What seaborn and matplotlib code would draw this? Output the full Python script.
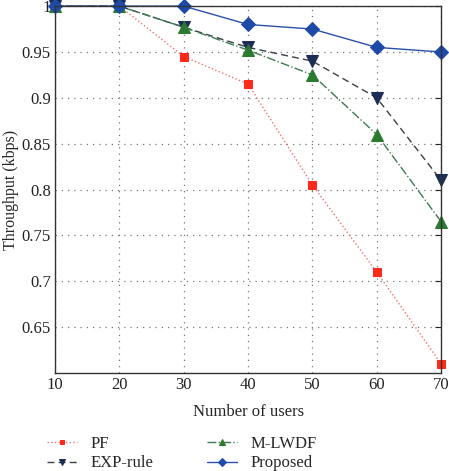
import numpy as np
import pandas as pd
import seaborn as sns
import matplotlib.pyplot as plt

# dati
users = [10, 20, 30, 40, 50, 60, 70]
pf = [1.0, 1.0, 0.945, 0.915, 0.805, 0.71, 0.61]
exp_rule = [1.0, 1.0, 0.977, 0.955, 0.94, 0.90, 0.81]
m_lwdf = [1.0, 1.0, 0.977, 0.952, 0.925, 0.86, 0.765]
proposed = [1.0, 1.0, 1.0, 0.98, 0.975, 0.955, 0.95]

sns.set_style("white")
plt.rcParams['font.family'] = ['Liberation Serif', 'DejaVu Serif']

fig = plt.figure(figsize=(4.49, 4.71), dpi=100)
ax = fig.add_axes([0.1225, 0.208, 0.86, 0.779])

series = [
    ("PF", pf, dict(color="#f07070", linestyle=":", marker="s", markerfacecolor="#ff2a1a",
                    markeredgecolor="#ff2a1a", markersize=6)),
    ("EXP-rule", exp_rule, dict(color="#3a3f4a", linestyle=(0, (5, 3)), marker="v",
                                markerfacecolor="#1c2d55", markeredgecolor="#1c2d55", markersize=8)),
    ("M-LWDF", m_lwdf, dict(color="#3c7a50", linestyle="-.", marker="^", markerfacecolor="#2a7a30",
                            markeredgecolor="#2a7a30", markersize=8)),
    ("Proposed", proposed, dict(color="#2a50a8", linestyle="-", marker="D", markerfacecolor="#1f4aa8",
                                markeredgecolor="#1f4aa8", markersize=7)),
]

for name, vals, kw in series:
    sns.lineplot(x=users, y=vals, ax=ax, label=name, linewidth=1.0, clip_on=False, **kw)

ax.set_xlim(10, 70)
ax.set_ylim(0.6, 1.0)
ax.set_xticks(users)
ax.set_yticks([0.65, 0.7, 0.75, 0.8, 0.85, 0.9, 0.95, 1.0])
ax.set_yticklabels(["0.65", "0.7", "0.75", "0.8", "0.85", "0.9", "0.95", "1"])
ax.grid(True, linestyle=(0, (1, 4)), color="#777777", linewidth=0.9)
ax.tick_params(direction="in", length=4, labelsize=12, right=True, top=False, colors="#222222",
               pad=3)
for s in ax.spines.values():
    s.set_color("#333333")
    s.set_linewidth(1.0)

ax.set_xlabel("Number of users", fontsize=12, labelpad=8)
ax.set_ylabel("Throughput (kbps)", fontsize=11.5, labelpad=2)

ax.legend(loc="upper left", bbox_to_anchor=(-0.05, -0.14), ncol=2, frameon=False,
          fontsize=12, handlelength=1.8, columnspacing=3.2, labelspacing=0.2, handletextpad=0.8,
          markerscale=0.6, borderpad=0.2)

fig.savefig("out.png", dpi=100)
